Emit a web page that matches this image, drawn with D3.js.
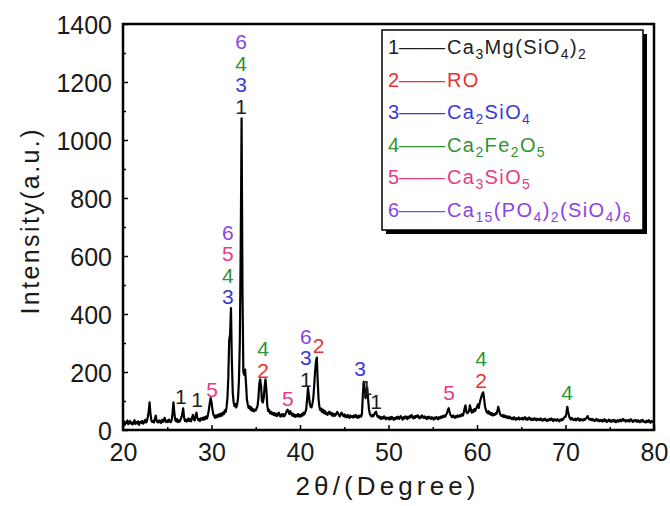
<!DOCTYPE html>
<html>
<head>
<meta charset="utf-8">
<script src="https://cdn.jsdelivr.net/npm/d3@7"></script>
<style>
  body { margin: 0; background: #fff; }
  svg { font-family: "Liberation Sans", Arial, sans-serif; }
</style>
</head>
<body>
<div id="chart"></div>
<script>
// phases (legend)
const phaseIds = [1, 2, 3, 4, 5, 6]
const phaseNames = ["Ca_3Mg(SiO_4)_2", "RO", "Ca_2SiO_4", "Ca_2Fe_2O_5", "Ca_3SiO_5", "Ca_15(PO_4)_2(SiO_4)_6"]
const phaseColors = ["#1e1e1e", "#e8322d", "#3a3ad8", "#2f942f", "#e63c86", "#8a44e0"]

// scan: 2theta from 20 to 80, step 0.1
const scanStart = 20
const scanStep = 0.1
const intensity = [
  22,30,18,27,24,33,20,26,31,22,
  25,19,28,34,21,27,23,30,18,26,
  29,24,31,22,27,35,26,30,45,62,
  95,58,34,28,31,26,38,50,33,27,
  26,33,29,24,35,28,31,42,30,27,
  33,28,36,30,27,34,58,95,60,35,
  30,38,27,33,29,36,44,55,75,44,
  31,36,29,34,40,31,37,30,42,52,
  38,33,48,60,42,34,38,31,40,36,
  42,35,44,38,47,40,52,70,92,110,
  96,72,55,48,42,50,44,52,46,55,
  48,57,50,60,55,68,62,78,110,180,
  310,330,420,240,130,95,82,90,78,88,
  110,170,300,620,1075,480,200,190,208,160,
  105,88,76,82,70,78,66,72,64,70,
  68,75,82,110,160,175,150,100,95,110,
  150,175,140,85,65,70,58,63,55,60,
  52,58,50,56,48,55,60,50,46,54,
  48,55,47,52,58,66,70,62,55,65,
  58,50,56,47,53,45,52,48,55,46,
  52,47,56,50,60,54,62,72,105,145,
  120,92,80,78,90,110,150,200,235,250,
  170,105,78,68,74,62,70,58,66,55,
  60,52,58,63,55,60,50,57,48,55,
  50,56,62,58,52,47,55,60,52,48,
  54,45,50,44,52,47,42,50,45,48,
  43,50,45,52,47,42,49,44,50,46,
  55,120,167,140,110,135,145,105,70,55,
  50,46,52,48,55,60,63,50,45,48,
  40,45,38,44,40,47,42,37,43,39,
  42,36,44,38,45,40,35,42,38,44,
  40,46,38,43,48,41,36,44,40,47,
  43,38,46,41,48,44,52,46,40,47,
  42,49,45,51,44,40,47,43,50,45,
  41,47,43,38,45,40,46,42,38,44,
  40,36,43,39,45,41,37,44,40,46,
  42,48,44,50,46,52,58,68,75,62,
  52,48,44,50,46,42,48,44,50,46,
  46,52,48,55,50,58,75,85,64,58,
  60,66,85,72,60,68,62,72,66,74,
  80,88,76,92,105,115,125,130,108,82,
  70,62,58,65,55,60,52,58,50,55,
  52,58,55,65,80,68,56,50,48,52,
  45,50,44,48,42,47,40,46,43,38,
  42,37,44,39,35,41,38,43,36,40,
  38,42,36,40,44,37,41,35,39,43,
  36,40,34,38,35,41,37,33,39,35,
  38,34,40,36,32,37,34,39,35,31,
  36,33,38,34,40,35,31,37,33,36,
  32,37,34,30,36,33,38,35,40,45,
  45,58,80,62,48,40,36,42,38,34,
  35,39,33,37,41,35,32,38,34,36,
  33,38,35,40,42,48,40,36,38,34,
  38,33,36,31,35,38,32,36,30,34,
  31,35,29,33,37,30,34,28,32,36,
  30,34,28,32,35,29,33,27,31,34,
  29,33,36,30,34,38,32,35,29,33,
  31,35,29,34,37,31,28,33,30,35,
  32,28,34,30,27,33,29,35,31,27,
  30,26,32,28,34,29,25,31,27,30,
  28
]

// peak markers: position, level of the lowest digit, phases bottom to top
const markTheta = [33.33, 31.86, 26.55, 28.36, 30.06, 35.82, 38.64, 40.65, 42.09, 46.78, 47.5, 48.6, 56.84, 60.45, 70.17]
const markLevel = [1117, 459, 117, 107, 141, 207, 110, 176, 293, 214, 148, 100, 128, 172, 128]
const markIds = [[1,3,4,6], [3,4,5,6], [1], [1], [5], [2,4], [5], [1,3,6], [2], [3], [1], [1], [5], [2,4], [4]]

// axes
const xTicks = [20, 30, 40, 50, 60, 70, 80]
const xMinor = [25, 35, 45, 55, 65, 75]
const yTicks = [0, 200, 400, 600, 800, 1000, 1200, 1400]
const yMinor = [100, 300, 500, 700, 900, 1100, 1300]

const W = 670, H = 506
const MARGIN = { LEFT: 123, RIGHT: 16, TOP: 24, BOTTOM: 76 }
const WIDTH = W - MARGIN.LEFT - MARGIN.RIGHT
const HEIGHT = H - MARGIN.TOP - MARGIN.BOTTOM

const svg = d3.select("#chart").append("svg")
  .attr("width", W)
  .attr("height", H)

const g = svg.append("g")
  .attr("transform", `translate(${MARGIN.LEFT}, ${MARGIN.TOP})`)

const x = d3.scaleLinear().domain([20, 80]).range([0, WIDTH])
const y = d3.scaleLinear().domain([0, 1400]).range([HEIGHT, 0])

const scan = intensity.map((v, i) => ({ t: scanStart + i * scanStep, v: v }))

// spectrum
g.append("path")
  .datum(scan)
  .attr("fill", "none")
  .attr("stroke", "#000")
  .attr("stroke-width", 2.2)
  .attr("stroke-linejoin", "round")
  .attr("d", d3.line().x(d => x(d.t)).y(d => y(d.v)))

// axes, ticks pointing inward
g.append("g")
  .attr("transform", `translate(0, ${HEIGHT})`)
  .call(d3.axisBottom(x).tickValues(xTicks).tickSizeInner(-5).tickSizeOuter(0).tickPadding(13))
g.append("g")
  .attr("transform", `translate(0, ${HEIGHT})`)
  .call(d3.axisBottom(x).tickValues(xMinor).tickFormat("").tickSizeInner(-3).tickSizeOuter(0))
const yAxis = g.append("g")
  .call(d3.axisLeft(y).tickValues(yTicks).tickFormat(d3.format("d")).tickSizeInner(-5).tickSizeOuter(0).tickPadding(11))
g.append("g")
  .call(d3.axisLeft(y).tickValues(yMinor).tickFormat("").tickSizeInner(-3).tickSizeOuter(0))

g.selectAll(".domain").remove()
g.selectAll(".tick line").attr("stroke", "#000").attr("stroke-width", 1.5)
g.selectAll(".tick text")
  .attr("font-family", "Liberation Sans, Arial, sans-serif")
  .attr("font-size", 25)
  .attr("fill", "#1a1a1a")
yAxis.selectAll(".tick text").attr("dy", "0.36em")

// frame
g.append("rect")
  .attr("width", WIDTH)
  .attr("height", HEIGHT)
  .attr("fill", "none")
  .attr("stroke", "#000")
  .attr("stroke-width", 2.5)

// peak markers
const STACK = 21.5
markTheta.forEach((t, i) => {
  markIds[i].forEach((id, k) => {
    g.append("text")
      .attr("x", x(t))
      .attr("y", y(markLevel[i]) - k * STACK)
      .attr("dy", "0.36em")
      .attr("text-anchor", "middle")
      .attr("font-size", 21)
      .attr("fill", phaseColors[id - 1])
      .text(id)
  })
})

// legend
const legend = svg.append("g").attr("transform", "translate(382, 30)")
legend.append("rect")
  .attr("x", 4).attr("y", 4)
  .attr("width", 261).attr("height", 200)
  .attr("fill", "#000")
legend.append("rect")
  .attr("width", 261).attr("height", 200)
  .attr("fill", "#fff")
  .attr("stroke", "#000")
  .attr("stroke-width", 1.5)

phaseIds.forEach((id, i) => {
  const row = legend.append("g").attr("transform", `translate(0, ${17 + i * 32.5})`)
  const col = phaseColors[i]
  row.append("text")
    .attr("x", 6).attr("y", 7)
    .attr("font-size", 20).attr("fill", col)
    .text(id)
  row.append("text")
    .attr("x", 17).attr("y", 7)
    .attr("font-size", 20).attr("fill", col)
    .attr("textLength", 46).attr("lengthAdjust", "spacingAndGlyphs")
    .text("——")
  const label = row.append("text")
    .attr("x", 65).attr("y", 7)
    .attr("font-size", 20).attr("fill", col)
    .attr("letter-spacing", 1.4)
  const parts = phaseNames[i].split(/(_\d+)/).filter(s => s.length)
  let shifted = false
  parts.forEach(p => {
    const ts = label.append("tspan")
    if (p[0] === "_") {
      ts.attr("font-size", 14).attr("dy", shifted ? 0 : 5).text(p.slice(1))
      shifted = true
    } else {
      ts.attr("dy", shifted ? -5 : 0).text(p)
      shifted = false
    }
  })
})

// axis titles
svg.append("text")
  .attr("transform", "translate(39, 222) rotate(-90)")
  .attr("text-anchor", "middle")
  .attr("font-size", 25)
  .attr("fill", "#1a1a1a")
  .attr("textLength", 185).attr("lengthAdjust", "spacing")
  .text("Intensity(a.u.)")

svg.append("text")
  .attr("x", MARGIN.LEFT + WIDTH / 2 - 3)
  .attr("y", 495)
  .attr("text-anchor", "middle")
  .attr("font-size", 26)
  .attr("fill", "#1a1a1a")
  .attr("textLength", 180).attr("lengthAdjust", "spacing")
  .text("2θ/(Degree)")
</script>
</body>
</html>
